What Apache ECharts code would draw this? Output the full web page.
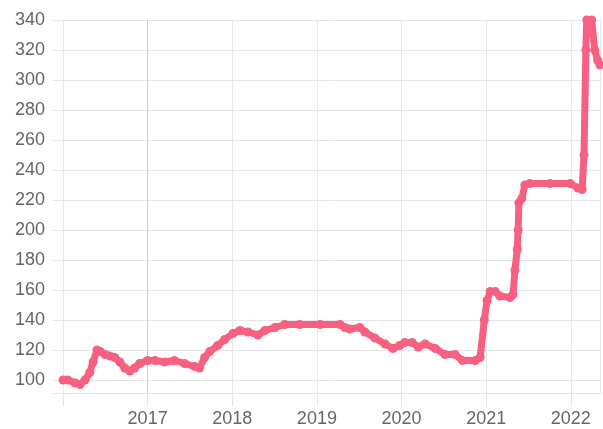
<!DOCTYPE html>
<html>
<head>
<meta charset="utf-8">
<script src="https://cdn.jsdelivr.net/npm/echarts@6/dist/echarts.min.js"></script>
<style>html,body{margin:0;padding:0;background:#fff}#c{width:603px;height:429px}</style>
</head>
<body>
<div id="c"></div>
<script>
const dates = ['2016-01-01','2016-01-22','2016-02-22','2016-03-15','2016-04-05','2016-04-26','2016-05-10','2016-05-27','2016-06-10','2016-07-01','2016-07-22','2016-08-12','2016-09-03','2016-09-24','2016-10-16','2016-11-06','2016-11-28','2017-01-01','2017-02-02','2017-03-15','2017-04-27','2017-06-09','2017-07-23','2017-08-13','2017-09-04','2017-09-26','2017-10-30','2017-11-30','2018-01-04','2018-02-03','2018-03-10','2018-04-22','2018-05-22','2018-07-05','2018-08-15','2018-10-19','2019-01-15','2019-04-11','2019-05-02','2019-05-23','2019-07-05','2019-07-27','2019-09-08','2019-10-22','2019-11-25','2019-12-24','2020-01-15','2020-02-16','2020-03-13','2020-04-12','2020-05-26','2020-07-07','2020-08-19','2020-09-20','2020-11-15','2020-12-06','2020-12-24','2021-01-05','2021-01-18','2021-02-09','2021-03-01','2021-04-14','2021-04-27','2021-05-05','2021-05-15','2021-05-19','2021-05-22','2021-06-04','2021-06-17','2021-07-09','2021-10-03','2021-12-29','2022-02-01','2022-02-19','2022-02-27','2022-03-07','2022-03-11','2022-04-01','2022-04-14','2022-04-27','2022-05-07'];
const values = [100,100,98,97,100,105,112,120,119,117,116,115,112,108,106,108,111,113,113,112,113,111,109,108,115,119,123,127,131,133,132,130,133,135,137,137,137,137,135,134,135,132,128,124,121,123,125,125,122,124,121,117,117,113,113,115,140,153,159,159,156,155,157,173,187,200,218,221,230,231,231,231,228,227,250,320,340,340,320,313,310];
const yTicks = [100,120,140,160,180,200,220,240,260,280,300,320,340];
const yearLabels = [2017,2018,2019,2020,2021,2022];

function toYear(s){
  const p = s.split('-').map(Number);
  const t = Date.UTC(p[0], p[1]-1, p[2]);
  const a = Date.UTC(p[0],0,1), b = Date.UTC(p[0]+1,0,1);
  return p[0] + (t-a)/(b-a);
}
const pts = dates.map((d,i)=>[toYear(d), values[i]]);
const xMax = toYear(dates[dates.length-1]);

const chart = echarts.init(document.getElementById('c'), null, {renderer:'canvas'});
const grid = '#e6e6e6';
chart.setOption({
  animation:false,
  grid:{left:63, right:3, top:20, bottom:36},
  xAxis:{
    type:'value', min:2016, max:xMax, interval:1,
    axisLine:{show:true, lineStyle:{color:grid}},
    axisTick:{show:true, length:13, lineStyle:{color:grid}},
    splitLine:{show:true, lineStyle:{color:['#e8e8e8','#cfcfcf','#e8e8e8','#e8e8e8','#e8e8e8','#e8e8e8','#e8e8e8','#e8e8e8']}},
    axisLabel:{fontFamily:'Liberation Sans', fontSize:18, color:'#666', margin:17,
      showMaxLabel:false,
      formatter:v=> yearLabels.indexOf(v)>=0 ? String(v) : ''}
  },
  yAxis:{
    type:'value', min:91.33, max:340, splitNumber:12,
    axisLine:{show:false},
    axisTick:{show:true, length:10, lineStyle:{color:grid}},
    splitLine:{show:true, lineStyle:{color:grid}},
    axisLabel:{fontFamily:'Liberation Sans', fontSize:18, color:'#666', margin:18,
      formatter:v=> yTicks.indexOf(v)>=0 ? String(v) : ''}
  },
  series:[{
    type:'line', data:pts, clip:false,
    showSymbol:true, symbol:'circle', symbolSize:9,
    lineStyle:{color:'rgb(247,96,128)', width:7, join:'round', cap:'round'},
    itemStyle:{color:'rgb(247,96,128)'}
  }]
});
</script>
</body>
</html>
